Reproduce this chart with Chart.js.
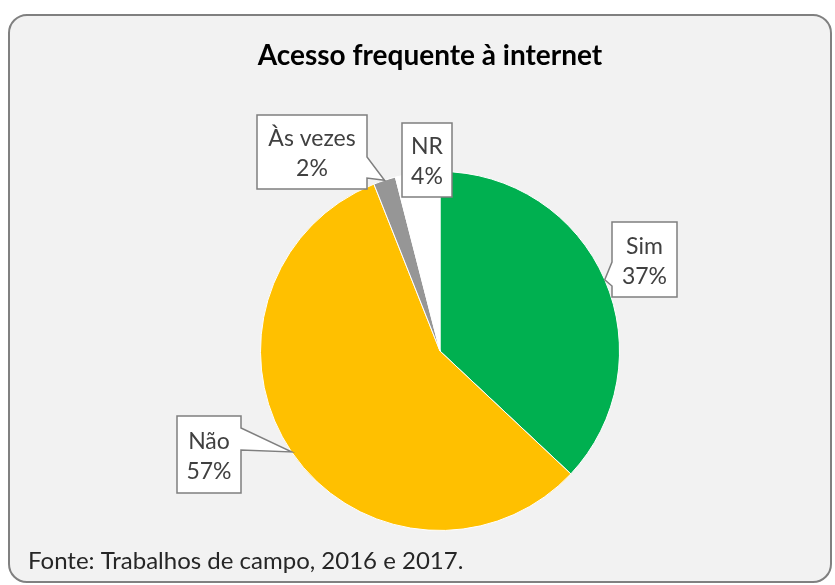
<!DOCTYPE html>
<html lang="pt">
<head>
    <meta charset="UTF-8">
    <title>Acesso frequente à internet</title>
    <script src="https://cdn.jsdelivr.net/npm/chart.js"></script>
    <style>
        body { margin: 0; background: #ffffff; }
        canvas { display: block; }
    </style>
</head>
<body>
    <canvas id="pieChart" width="835" height="585"></canvas>

    <script>
        // Data
        const categories = ['Sim', 'Não', 'Às vezes', 'NR'];
        const shares = [37, 57, 2, 4];
        const sliceColors = ['#00b050', '#ffc000', '#969696', '#ffffff'];
        const chartTitle = 'Acesso frequente à internet';
        const sourceNote = 'Fonte: Trabalhos de campo, 2016 e 2017.';

        const FONT = 'Lato, "Open Sans", sans-serif';

        // callout boxes, index matches categories
        const callouts = [
            { x: 612, y: 222, w: 65, h: 75, side: 'left', b1: 262, b2: 286 },
            { x: 177, y: 416, w: 64, h: 77, side: 'right', b1: 428, b2: 450 },
            { x: 257, y: 115, w: 110, h: 74, side: 'right', b1: 157, b2: 178 },
            { x: 402, y: 123, w: 50, h: 74, side: null }
        ];

        const framePlugin = {
            id: 'frame',
            beforeDraw(chart) {
                const ctx = chart.ctx;
                ctx.save();
                ctx.fillStyle = '#ffffff';
                ctx.fillRect(0, 0, chart.width, chart.height);
                ctx.beginPath();
                ctx.roundRect(9, 15, 822, 567, 18);
                ctx.fillStyle = '#f2f2f2';
                ctx.fill();
                ctx.lineWidth = 2;
                ctx.strokeStyle = '#808080';
                ctx.stroke();

                ctx.fillStyle = '#000000';
                ctx.font = 'bold 28px ' + FONT;
                ctx.textAlign = 'center';
                ctx.textBaseline = 'alphabetic';
                ctx.fillText(chartTitle, 430, 65);

                ctx.fillStyle = '#262626';
                ctx.font = '24px ' + FONT;
                ctx.textAlign = 'left';
                ctx.fillText(sourceNote, 28, 569);
                ctx.restore();
            }
        };

        const calloutPlugin = {
            id: 'callouts',
            afterDatasetsDraw(chart) {
                const ctx = chart.ctx;
                const arcs = chart.getDatasetMeta(0).data;
                ctx.save();
                callouts.forEach((c, i) => {
                    const arc = arcs[i];
                    const mid = (arc.startAngle + arc.endAngle) / 2;
                    const tipX = arc.x + Math.cos(mid) * arc.outerRadius;
                    const tipY = arc.y + Math.sin(mid) * arc.outerRadius;

                    ctx.beginPath();
                    ctx.moveTo(c.x, c.y);
                    ctx.lineTo(c.x + c.w, c.y);
                    if (c.side === 'right') {
                        ctx.lineTo(c.x + c.w, c.b1);
                        ctx.lineTo(tipX, tipY);
                        ctx.lineTo(c.x + c.w, c.b2);
                    }
                    ctx.lineTo(c.x + c.w, c.y + c.h);
                    ctx.lineTo(c.x, c.y + c.h);
                    if (c.side === 'left') {
                        ctx.lineTo(c.x, c.b2);
                        ctx.lineTo(tipX, tipY);
                        ctx.lineTo(c.x, c.b1);
                    }
                    ctx.closePath();
                    ctx.fillStyle = '#ffffff';
                    ctx.fill();
                    ctx.lineWidth = 1.5;
                    ctx.strokeStyle = '#7f7f7f';
                    ctx.stroke();

                    ctx.fillStyle = '#404040';
                    ctx.font = '23px ' + FONT;
                    ctx.textAlign = 'center';
                    ctx.textBaseline = 'alphabetic';
                    const cx = c.x + c.w / 2;
                    const cy = c.y + c.h / 2;
                    ctx.fillText(categories[i], cx, cy - 6);
                    ctx.fillText(shares[i] + '%', cx, cy + 24);
                });
                ctx.restore();
            }
        };

        const ctx = document.getElementById('pieChart').getContext('2d');
        new Chart(ctx, {
            type: 'pie',
            data: {
                labels: categories,
                datasets: [{
                    data: shares,
                    backgroundColor: sliceColors,
                    borderColor: '#ffffff',
                    borderWidth: 1
                }]
            },
            options: {
                responsive: false,
                animation: false,
                layout: {
                    padding: { left: 260, right: 215, top: 171, bottom: 54 }
                },
                plugins: {
                    legend: { display: false },
                    tooltip: { enabled: false }
                }
            },
            plugins: [framePlugin, calloutPlugin]
        });
    </script>
</body>
</html>
